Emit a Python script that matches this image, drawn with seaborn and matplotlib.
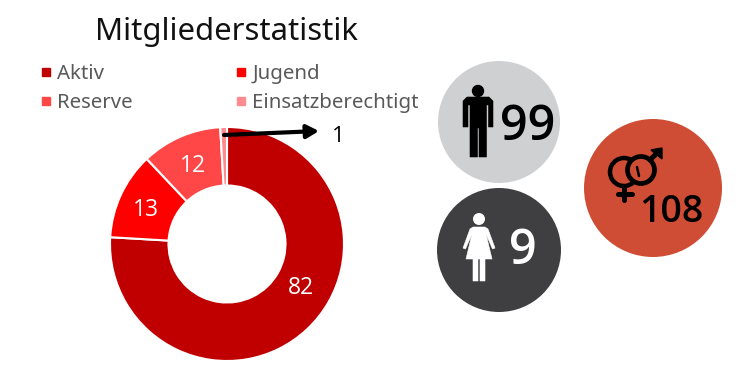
import matplotlib
matplotlib.use("Agg")
import matplotlib.pyplot as plt
import seaborn as sns
from matplotlib.lines import Line2D
from matplotlib.patches import Circle, Polygon, Arc

categories = ["Aktiv", "Jugend", "Reserve", "Einsatzberechtigt"]
values = [82, 13, 12, 1]
colors = ["#C00000", "#FF0000", "#FF4747", "#FF8A8F"]
total_all = 108
total_men = 99
total_women = 9
title = "Mitgliederstatistik"

sns.set_theme(style="white")
plt.rcParams["font.family"] = ["Open Sans", "DejaVu Sans"]

W, H = 746, 372
fig = plt.figure(figsize=(W / 100, H / 100), dpi=100)

# overlay in pixel space for decoration
ov = fig.add_axes([0, 0, 1, 1])
ov.set_xlim(0, W)
ov.set_ylim(H, 0)
ov.axis("off")

# donut
cx, cy, R = 227, 244, 117
pax = fig.add_axes([(cx - R) / W, 1 - (cy + R) / H, 2 * R / W, 2 * R / H])
wedges, _, autotexts = pax.pie(
    values, colors=colors, startangle=90, counterclock=False, radius=1,
    wedgeprops=dict(width=0.5, edgecolor="white", linewidth=1.5),
    autopct=lambda p: f"{round(p * sum(values) / 100)}", pctdistance=0.75,
    textprops=dict(color="white", fontsize=16.5),
)
pax.set_xlim(-1, 1)
pax.set_ylim(-1, 1)
for w in wedges:
    w.set_clip_on(False)
autotexts[0].set_position(((301 - cx) / R, (cy - 288) / R))
x1, y1 = autotexts[1].get_position()
autotexts[1].set_position((x1 - 1.5 / R, y1 - 3 / R))
x2, y2 = autotexts[2].get_position()
autotexts[2].set_position((x2 + 1 / R, y2 - 3 / R))
autotexts[3].set_visible(False)

# callout for the smallest slice
ov.set_zorder(3)
ov.patch.set_alpha(0)
ov.annotate("", xy=(319, 131), xytext=(224, 135),
            arrowprops=dict(arrowstyle="-|>,head_length=0.6,head_width=0.33", color="black",
                            lw=3, shrinkA=0, shrinkB=0))
ov.text(338, 137, f"{values[3]}", color="black", fontsize=16, ha="center", va="center")

# title
ov.text(227, 32, title, fontsize=22.4, color="#111111", ha="center", va="center",
        family=["Noto Sans", "DejaVu Sans"])

# legend
handles = [Line2D([], [], ls="none", marker="s", ms=5.5, color=c) for c in colors]
order = [0, 2, 1, 3]
leg = ov.legend(
    [handles[i] for i in order], [categories[i] for i in order], ncol=2,
    loc="upper left", bbox_to_anchor=(31.5 / W, 1 - 64 / H), frameon=False,
    fontsize=14.7, labelcolor="#595959", handletextpad=-0.2, handlelength=1.45,
    columnspacing=4.6, labelspacing=0.44, borderpad=0, borderaxespad=0,
)
leg.get_frame().set_alpha(0)
for t in leg.get_texts():
    t.set_fontfamily(["Noto Sans", "DejaVu Sans"])

# bubbles
ov.add_patch(Circle((499, 122), 61, fc="#CFD0D2", ec="none"))
ov.add_patch(Circle((499, 250), 62, fc="#3F3F41", ec="none"))
ov.add_patch(Circle((653, 188), 69, fc="#CF4D35", ec="none"))

# man icon
ov.add_patch(Circle((478, 91), 6.2, fc="black", ec="none"))
man = [(467, 97), (489, 97), (493, 101), (493, 127), (488.5, 127), (488.5, 105), (486.5, 105),
       (486.5, 157), (479, 157), (479, 128), (477.5, 128), (477.5, 157), (470, 157), (470, 105),
       (468, 105), (468, 127), (463, 127), (463, 101)]
ov.add_patch(Polygon(man, closed=True, fc="black", ec="black", lw=0.4, joinstyle="round"))

# woman icon
ov.add_patch(Circle((479, 219), 6, fc="white", ec="none"))
woman = [(473, 227), (485, 227), (488, 229), (495, 248), (492.5, 249), (486, 234), (492, 259),
         (485, 259), (485, 281), (480, 281), (480, 259), (478, 259), (478, 281), (473, 281),
         (473, 259), (466, 259), (472, 234), (465.5, 249), (463, 248), (470, 229)]
ov.add_patch(Polygon(woman, closed=True, fc="white", ec="white", lw=0.4, joinstyle="round"))

# combined gender icon
ov.add_patch(Arc((624, 172), 28, 28, theta1=50, theta2=300, ec="black", lw=3.2))
ov.plot([624, 624], [186, 200], color="black", lw=3.6, solid_capstyle="round")
ov.plot([618, 632], [194, 194], color="black", lw=3.6, solid_capstyle="round")
ov.add_patch(Circle((641, 170), 13.5, fc="none", ec="black", lw=3.4))
ov.plot([650, 659], [160, 151], color="black", lw=3.6)
ov.add_patch(Polygon([(651, 150), (662, 148), (662, 159)], closed=True, fc="black", ec="black", lw=1))
ov.plot([637, 639], [167, 176], color="black", lw=1.8)

# bubble numbers
ov.text(528, 127, f"{total_men}", fontsize=35, fontweight="semibold", color="black", ha="center", va="center")
ov.text(523, 251, f"{total_women}", fontsize=35, fontweight="semibold", color="white", ha="center", va="center")
ov.text(671, 212, f"{total_all}", fontsize=27, fontweight="semibold", color="black", ha="center", va="center")

fig.savefig("out.png", dpi=100)
